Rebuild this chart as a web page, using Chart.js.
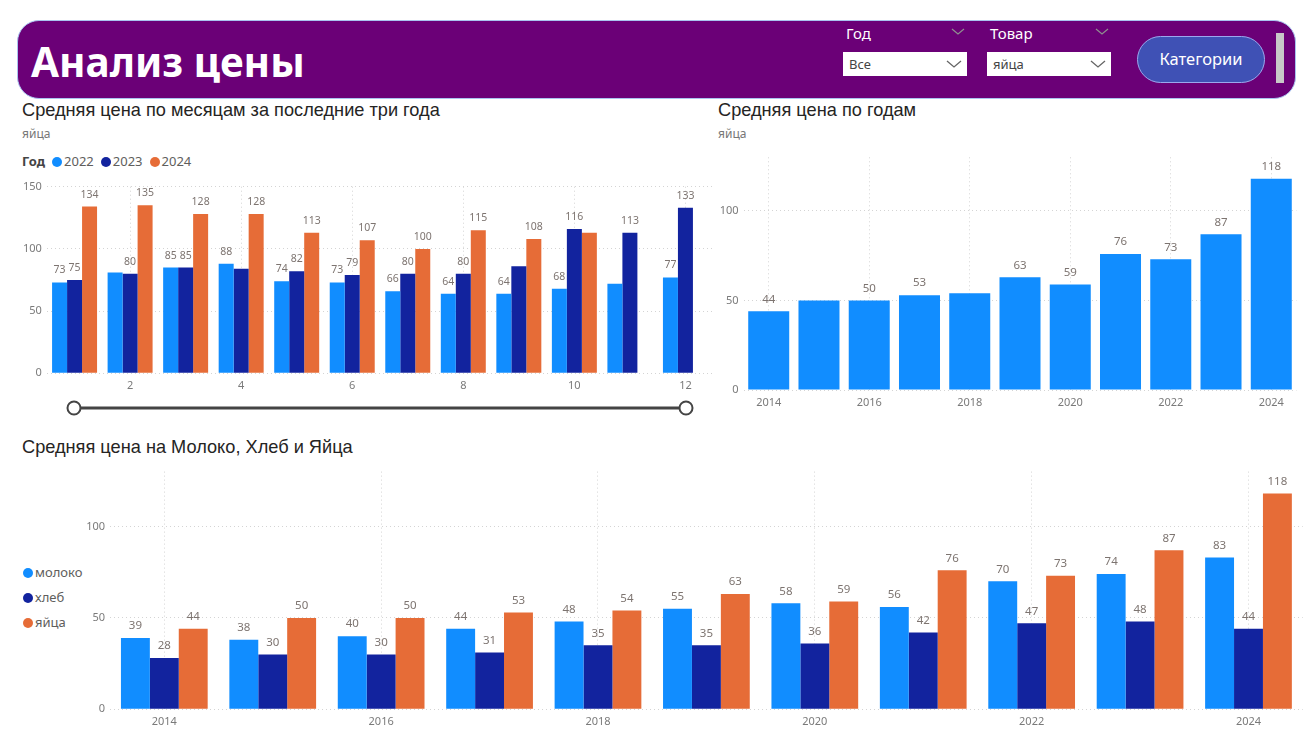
<!DOCTYPE html>
<html lang="ru">
<head>
<meta charset="utf-8">
<title>Анализ цены</title>
<script src="https://cdn.jsdelivr.net/npm/chart.js@4.4.1/dist/chart.umd.min.js"></script>
<style>
  html, body { margin: 0; padding: 0; background: #fff; }
  body { width: 1311px; height: 756px; position: relative; overflow: hidden; font-family: "Noto Sans", sans-serif; }
  .abs { position: absolute; }
  #header { left: 17px; top: 20px; width: 1277px; height: 77px; background: #6b0077; border: 1px solid #a9c4f0; border-radius: 22px; }
  #header h1 { position: absolute; left: 13px; top: 13px; margin: 0; font: bold 40.5px "Noto Sans", sans-serif; color: #fff; }
  .slbl { color: #fff; font-size: 15px; }
  .sbox { background: #fff; width: 124px; height: 24px; font-size: 13px; color: #444; box-sizing: border-box; padding: 3px 0 0 6px; }
  .chev { position: absolute; }
  #btn { left: 1137px; top: 36px; width: 128px; height: 47px; box-sizing: border-box; background: #3f51b5; border: 1.5px solid #9aa8ee; border-radius: 24px; color: #fff; font-size: 16.5px; text-align: center; line-height: 44px; }
  #bar { left: 1276px; top: 33px; width: 8px; height: 50px; background: #c8c8c8; }
  .title { font: 18.2px "Liberation Sans", Arial, sans-serif; color: #252423; }
  .sub { font: 12px "Noto Sans", sans-serif; color: #777; }
  .leg { font: 13px "Noto Sans", sans-serif; color: #605e5c; white-space: nowrap; }
  .dot { display: inline-block; width: 10px; height: 10px; border-radius: 50%; vertical-align: -1px; margin-right: 2px; }
  .top-leg .dot { margin-left: 7px; }
  canvas { position: absolute; }
</style>
</head>
<body>

<div id="header" class="abs">
  <h1>Анализ цены</h1>
</div>
<div class="abs slbl" style="left:846px; top:23px;">Год</div>
<svg class="chev" style="left:951px; top:28px;" width="14" height="8"><polyline points="1,1 7,6 13,1" fill="none" stroke="#8f8f8f" stroke-width="1.2"/></svg>
<div class="abs sbox" style="left:843px; top:52px;">Все</div>
<svg class="chev" style="left:946px; top:60px;" width="16" height="9"><polyline points="1,1 8,7 15,1" fill="none" stroke="#666" stroke-width="1.3"/></svg>
<div class="abs slbl" style="left:990px; top:23px;">Товар</div>
<svg class="chev" style="left:1095px; top:28px;" width="14" height="8"><polyline points="1,1 7,6 13,1" fill="none" stroke="#8f8f8f" stroke-width="1.2"/></svg>
<div class="abs sbox" style="left:987px; top:52px;">яйца</div>
<svg class="chev" style="left:1090px; top:60px;" width="16" height="9"><polyline points="1,1 8,7 15,1" fill="none" stroke="#666" stroke-width="1.3"/></svg>
<div id="btn" class="abs">Категории</div>
<div id="bar" class="abs"></div>

<div class="abs title" style="left:22px; top:100px;">Средняя цена по месяцам за последние три года</div>
<div class="abs sub" style="left:22px; top:125px;">яйца</div>
<div class="abs leg top-leg" style="left:22px; top:152px;"><b style="color:#444">Год</b><span class="dot" style="background:#118dff"></span>2022<span class="dot" style="background:#12239e"></span>2023<span class="dot" style="background:#e66c37"></span>2024</div>

<div class="abs title" style="left:718px; top:100px;">Средняя цена по годам</div>
<div class="abs sub" style="left:718px; top:125px;">яйца</div>

<div class="abs title" style="left:22px; top:437px;">Средняя цена на Молоко, Хлеб и Яйца</div>
<div class="abs leg" style="left:23px; top:560px; line-height:25px;">
  <div><span class="dot" style="background:#118dff"></span>молоко</div>
  <div><span class="dot" style="background:#12239e"></span>хлеб</div>
  <div><span class="dot" style="background:#e66c37"></span>яйца</div>
</div>

<svg class="abs" style="left:60px; top:395px;" width="640" height="26">
  <line x1="14" y1="13" x2="626" y2="13" stroke="#444" stroke-width="3"/>
  <circle cx="14" cy="13" r="6.5" fill="#fff" stroke="#444" stroke-width="2"/>
  <circle cx="626" cy="13" r="6.5" fill="#fff" stroke="#444" stroke-width="2"/>
</svg>

<canvas id="c1" width="716" height="230" style="left:0; top:170px;"></canvas>
<canvas id="c2" width="595" height="270" style="left:716px; top:145px;"></canvas>
<canvas id="c3" width="1251" height="275" style="left:60px; top:460px;"></canvas>

<script>
// monthly egg price, last three years
const months = ['1', '2', '3', '4', '5', '6', '7', '8', '9', '10', '11', '12'];
const price2022 = [73, 81, 85, 88, 74, 73, 66, 64, 64, 68, 72, 77];
const price2023 = [75, 80, 85, 84, 82, 79, 80, 80, 86, 116, 113, 133];
const price2024 = [134, 135, 128, 128, 113, 107, 100, 115, 108, 113, null, null];

// yearly prices
const years = ['2014', '2015', '2016', '2017', '2018', '2019', '2020', '2021', '2022', '2023', '2024'];
const eggsByYear = [44, 50, 50, 53, 54, 63, 59, 76, 73, 87, 118];
const milk = [39, 38, 40, 44, 48, 55, 58, 56, 70, 74, 83];
const bread = [28, 30, 30, 31, 35, 35, 36, 42, 47, 48, 44];
const eggs = [44, 50, 50, 53, 54, 63, 59, 76, 73, 87, 118];

const BLUE = '#118dff', NAVY = '#12239e', ORANGE = '#e66c37';
const GRID = '#d4d4d4', TICK = '#7a7a7a';

Chart.defaults.font.family = '"Noto Sans", sans-serif';
Chart.defaults.animation = false;

// labels over bars (Power BI hides a few of them)
const valueLabels = {
  id: 'valueLabels',
  afterDatasetsDraw(chart, args, opts) {
    const ctx = chart.ctx;
    const hide = opts.hide || [];
    ctx.save();
    ctx.font = (opts.size || 11) + 'px "Noto Sans", sans-serif';
    ctx.fillStyle = '#7d7470';
    ctx.textAlign = 'center';
    ctx.textBaseline = 'middle';
    chart.data.datasets.forEach((ds, di) => {
      chart.getDatasetMeta(di).data.forEach((bar, i) => {
        const v = ds.data[i];
        if (v == null || hide.includes(di + ':' + i)) return;
        ctx.fillText(String(v), bar.x, bar.y - 12);
      });
    });
    ctx.restore();
  }
};

function barChart(id, labels, datasets, o) {
  return new Chart(document.getElementById(id), {
    type: 'bar',
    data: { labels: labels, datasets: datasets },
    plugins: [valueLabels],
    options: {
      responsive: false,
      layout: { padding: { top: o.top, right: o.right, left: 0, bottom: 0 } },
      datasets: { bar: { barPercentage: o.bp, categoryPercentage: o.cp } },
      plugins: {
        legend: { display: false },
        tooltip: { enabled: false },
        valueLabels: { hide: o.hide, size: o.labelSize }
      },
      scales: {
        x: {
          offset: true,
          grid: {
            offset: false, drawTicks: false,
            color: c => (c.index % 2 === o.parity ? GRID : 'rgba(0,0,0,0)')
          },
          border: { display: false, dash: [1, 3] },
          ticks: {
            autoSkip: false, maxRotation: 0, padding: 6, color: TICK, font: { size: 11 },
            callback: function (v, i) { return i % 2 === o.parity ? this.getLabelForValue(v) : ''; }
          },
          afterFit: s => { s.height = o.xh; }
        },
        y: {
          min: 0, max: o.max,
          grid: { drawTicks: false, color: GRID },
          border: { display: false, dash: [1, 3] },
          ticks: { stepSize: 50, includeBounds: false, padding: 5, color: TICK, font: { size: 11 } },
          afterFit: s => { s.width = o.yw; }
        }
      }
    }
  });
}

barChart('c1', months, [
  { label: '2022', data: price2022, backgroundColor: BLUE },
  { label: '2023', data: price2023, backgroundColor: NAVY },
  { label: '2024', data: price2024, backgroundColor: ORANGE }
], { top: 16.7, right: 2.8, xh: 26.7, yw: 46.8, max: 150, bp: 1, cp: 0.81, parity: 1,
     labelSize: 10.5, hide: ['0:1', '0:10', '1:3', '1:8', '2:9'] });

barChart('c2', years, [
  { label: 'яйца', data: eggsByYear, backgroundColor: BLUE }
], { top: 12.3, right: 14.6, xh: 25, yw: 27.6, max: 130, bp: 0.816, cp: 1, parity: 0,
     labelSize: 11.5, hide: ['0:1', '0:4'] });

barChart('c3', years, [
  { label: 'молоко', data: milk, backgroundColor: BLUE },
  { label: 'хлеб', data: bread, backgroundColor: NAVY },
  { label: 'яйца', data: eggs, backgroundColor: ORANGE }
], { top: 8.8, right: 8.3, xh: 25.7, yw: 50.1, max: 130, bp: 1, cp: 0.80, parity: 0,
     labelSize: 11.5, hide: [] });
</script>
</body>
</html>
